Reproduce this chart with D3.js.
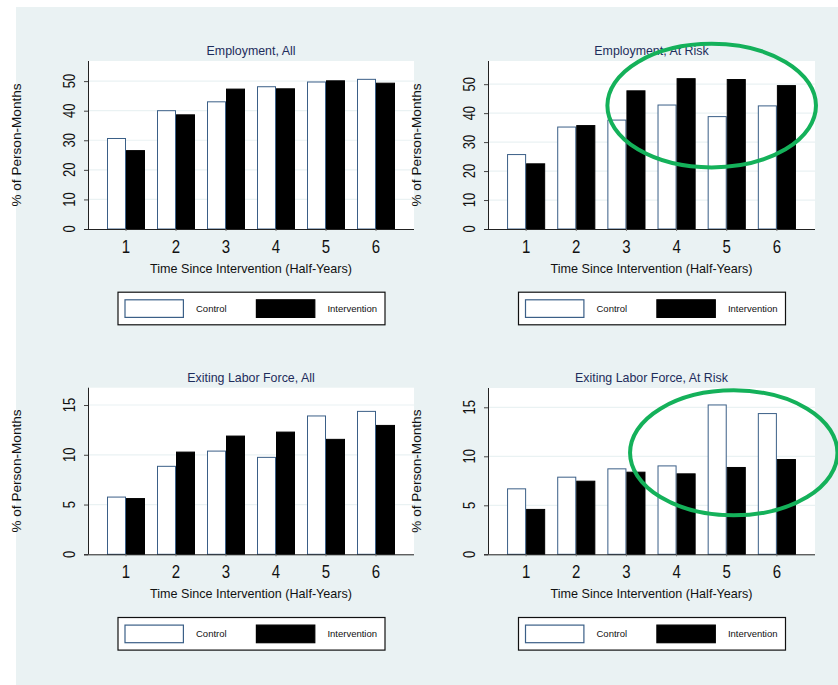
<!DOCTYPE html>
<html>
<head>
<meta charset="utf-8">
<script src="https://cdn.jsdelivr.net/npm/d3@7"></script>
<style>
  html, body { margin: 0; padding: 0; background: #fff; }
  svg { display: block; font-family: "Liberation Sans", Arial, sans-serif; }
</style>
</head>
<body>
<svg id="chart" width="838" height="685"></svg>
<script>
// values, % of person-months
const periods = [1, 2, 3, 4, 5, 6];
const seriesNames = ['Control', 'Intervention'];

const empAllControl = [30.6, 40.0, 43.0, 48.1, 49.7, 50.6];
const empAllInterv = [26.5, 38.6, 47.3, 47.4, 50.1, 49.3];
const empRiskControl = [25.7, 35.2, 37.6, 42.8, 38.8, 42.5];
const empRiskInterv = [22.5, 35.7, 47.7, 51.9, 51.6, 49.5];
const exitAllControl = [5.75, 8.84, 10.37, 9.74, 13.9, 14.36];
const exitAllInterv = [5.6, 10.27, 11.88, 12.28, 11.55, 12.95];
const exitRiskControl = [6.68, 7.87, 8.72, 9.02, 15.24, 14.36];
const exitRiskInterv = [4.58, 7.46, 8.38, 8.21, 8.86, 9.67];

const empTicks = [0, 10, 20, 30, 40, 50];
const exitTicks = [0, 5, 10, 15];

const xTitle = 'Time Since Intervention (Half-Years)';
const yTitle = '% of Person-Months';

const panels = [
  {title: 'Employment, All', control: empAllControl, interv: empAllInterv, ticks: empTicks, yMax: 56.8,
   left: 88, top: 61, width: 326, height: 168},
  {title: 'Employment, At Risk', control: empRiskControl, interv: empRiskInterv, ticks: empTicks, yMax: 58,
   left: 488, top: 61, width: 327, height: 168,
   ring: {at: 4.7, value: 42.6, rx: 104.3, ry: 61.8}},
  {title: 'Exiting Labor Force, All', control: exitAllControl, interv: exitAllInterv, ticks: exitTicks, yMax: 16.74,
   left: 88, top: 387.7, width: 326, height: 166.6},
  {title: 'Exiting Labor Force, At Risk', control: exitRiskControl, interv: exitRiskInterv, ticks: exitTicks, yMax: 16.97,
   left: 488, top: 388, width: 327, height: 166.3,
   ring: {at: 5.14, value: 10.35, rx: 103.7, ry: 62.5}}
];

const bg = '#eaf2f3';
const navy = '#1e2d5c';
const outline = '#3b5f87';

const svg = d3.select('#chart');

svg.append('rect')
  .attr('x', 16).attr('y', 7)
  .attr('width', 838 - 16).attr('height', 685 - 7)
  .attr('fill', bg);

panels.forEach((p) => drawPanel(p));
panels.filter((p) => p.ring).forEach((p) => drawRing(p));

function drawPanel(p) {
  const base = p.top + p.height;
  const g = svg.append('g');

  const x = d3.scaleBand()
    .domain(periods)
    .range([p.left, p.left + p.width])
    .paddingInner(0.24)
    .paddingOuter(0.38);
  const xs = d3.scaleBand()
    .domain(seriesNames)
    .range([0, x.bandwidth()]);
  const y = d3.scaleLinear()
    .domain([0, p.yMax])
    .range([base, p.top]);
  p.x = x;
  p.y = y;

  g.append('rect')
    .attr('x', p.left).attr('y', p.top)
    .attr('width', p.width).attr('height', p.height)
    .attr('fill', '#fff');

  // faint grid
  g.selectAll('line.grid')
    .data(p.ticks.filter((t) => t > 0))
    .enter().append('line')
    .attr('class', 'grid')
    .attr('x1', p.left).attr('x2', p.left + p.width)
    .attr('y1', (d) => y(d)).attr('y2', (d) => y(d))
    .attr('stroke', bg).attr('stroke-width', 1.2);

  const rows = periods.map((k, i) => ({k, Control: p.control[i], Intervention: p.interv[i]}));

  const grp = g.selectAll('g.grp')
    .data(rows)
    .enter().append('g')
    .attr('transform', (d) => `translate(${x(d.k)},0)`);

  grp.selectAll('rect')
    .data((d) => seriesNames.map((s) => ({s, v: d[s]})))
    .enter().append('rect')
    .attr('x', (d) => xs(d.s) + 0.5)
    .attr('y', (d) => y(d.v))
    .attr('width', xs.bandwidth() - 1)
    .attr('height', (d) => base - y(d.v))
    .attr('fill', (d) => d.s === 'Control' ? '#fff' : '#000')
    .attr('stroke', (d) => d.s === 'Control' ? outline : '#000')
    .attr('stroke-width', 1);

  // y axis
  const yAxis = g.append('g')
    .attr('transform', `translate(${p.left},0)`)
    .call(d3.axisLeft(y).tickValues(p.ticks).tickSize(4).tickSizeOuter(0).tickFormat(''));
  yAxis.select('.domain').attr('d', `M0.5,${p.top}V${base}`).attr('stroke', '#222');
  yAxis.selectAll('.tick line').attr('stroke', '#444');

  g.selectAll('text.ytick')
    .data(p.ticks)
    .enter().append('text')
    .attr('class', 'ytick')
    .attr('transform', (d) => `translate(${p.left - 13.5},${y(d)}) rotate(-90) scale(1,1.3)`)
    .attr('text-anchor', 'middle')
    .attr('font-size', 13)
    .attr('fill', '#111')
    .text((d) => d);

  // x axis
  const xAxis = g.append('g')
    .attr('transform', `translate(0,${base})`)
    .call(d3.axisBottom(x).tickSize(2).tickSizeOuter(0).tickFormat(''));
  xAxis.select('.domain').attr('d', `M${p.left - 4},0.5H${p.left + p.width}`).attr('stroke', '#222');
  xAxis.selectAll('.tick line').attr('stroke', '#777');

  g.selectAll('text.xtick')
    .data(periods)
    .enter().append('text')
    .attr('class', 'xtick')
    .attr('transform', (d) => `translate(${x(d) + x.bandwidth() / 2},${base + 23.5}) scale(1,1.22)`)
    .attr('text-anchor', 'middle')
    .attr('font-size', 15)
    .attr('fill', '#111')
    .text((d) => d);

  const cx = p.left + p.width / 2;

  g.append('text')
    .attr('x', cx).attr('y', p.top - 6)
    .attr('text-anchor', 'middle')
    .attr('font-size', 12.4)
    .attr('fill', navy)
    .text(p.title);

  g.append('text')
    .attr('x', cx).attr('y', base + 43.5)
    .attr('text-anchor', 'middle')
    .attr('font-size', 12.6)
    .attr('fill', '#111')
    .text(xTitle);

  g.append('text')
    .attr('transform', `translate(${p.left - 67.5},${p.top + p.height / 2}) rotate(-90)`)
    .attr('text-anchor', 'middle')
    .attr('font-size', 13.6)
    .attr('fill', '#111')
    .text(yTitle);

  // legend
  const lg = g.append('g')
    .attr('transform', `translate(${cx - 133.5},${base + 62.7})`);
  lg.append('rect')
    .attr('x', 0.5).attr('y', 0.5)
    .attr('width', 267).attr('height', 32.6)
    .attr('fill', '#fff').attr('stroke', '#111').attr('stroke-width', 1.2);

  const items = lg.selectAll('g.item')
    .data(seriesNames)
    .enter().append('g')
    .attr('transform', (d, i) => `translate(${7 + i * 131.4},7.6)`);
  items.append('rect')
    .attr('x', 0.5).attr('y', 0.5)
    .attr('width', 58.4).attr('height', 17.6)
    .attr('fill', (d) => d === 'Control' ? '#fff' : '#000')
    .attr('stroke', (d) => d === 'Control' ? outline : '#000')
    .attr('stroke-width', 1.2);
  items.append('text')
    .attr('x', 71.5).attr('y', 12.8)
    .attr('font-size', 9.5)
    .attr('fill', '#111')
    .text((d) => d);
}

function drawRing(p) {
  const step = p.x.step();
  const c1 = p.x(1) + p.x.bandwidth() / 2;
  svg.append('ellipse')
    .attr('cx', c1 + (p.ring.at - 1) * step)
    .attr('cy', p.y(p.ring.value))
    .attr('rx', p.ring.rx)
    .attr('ry', p.ring.ry)
    .attr('fill', 'none')
    .attr('stroke', '#14b15a')
    .attr('stroke-width', 4);
}
</script>
</body>
</html>
